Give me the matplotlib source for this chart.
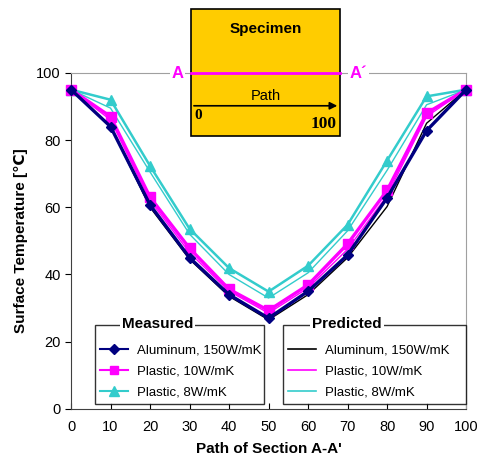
import matplotlib
matplotlib.use("Agg")
import matplotlib.pyplot as plt
from matplotlib.lines import Line2D
from matplotlib.patches import Rectangle

NAVY = "#000080"; MAGENTA = "#FF00FF"; CYAN = "#33CCCC"
YELLOW = "#FFCC00"; GRAYSPINE = "#A0A0A0"

plt.rcParams["font.family"] = ["Liberation Sans", "DejaVu Sans"]

path = [0, 10, 20, 30, 40, 50, 60, 70, 80, 90, 100]
meas_al = [95, 84, 60.7, 45, 34, 27, 35, 45.8, 62.8, 82.8, 95]
meas_p10 = [95, 87, 63, 47.8, 35.6, 29.3, 36.9, 49.1, 65, 88, 95]
meas_p8 = [95, 92, 72.3, 53.6, 41.9, 34.9, 42.6, 54.8, 73.9, 93, 95]
pred_al = [95, 84, 60, 44.5, 33.5, 26.5, 34, 45, 60.2, 85, 95]
pred_p10 = [95, 86, 62, 46.5, 35, 28.5, 36, 47.5, 63.5, 87, 95]
pred_p8 = [95, 89.5, 70.5, 52, 40, 33, 40.5, 53, 71, 90.5, 95]

labels = ["Aluminum, 150W/mK", "Plastic, 10W/mK", "Plastic, 8W/mK"]

fig = plt.figure(figsize=(4.8, 4.7), dpi=100)
ax = fig.add_axes([0.148, 0.130, 0.823, 0.715])

# predicted (thin lines)
ax.plot(path, pred_p8, color=CYAN, lw=1.0, zorder=3)
ax.plot(path, pred_p10, color=MAGENTA, lw=1.0, zorder=3)
ax.plot(path, pred_al, color="black", lw=1.0, zorder=3)

# measured (markers)
ax.plot(path, meas_p8, color=CYAN, lw=1.8, marker="^", ms=7, zorder=4, clip_on=False)
ax.plot(path, meas_p10, color=MAGENTA, lw=2.4, marker="s", ms=6.5, zorder=4, clip_on=False)
ax.plot(path, meas_al, color=NAVY, lw=2.4, marker="D", ms=5.5, zorder=5, clip_on=False)

ax.set_xlim(0, 100)
ax.set_ylim(0, 100)
ax.set_xticks(range(0, 101, 10))
ax.set_yticks(range(0, 101, 20))
ax.tick_params(axis="x", direction="in", length=4, labelsize=10.5, pad=8)
ax.tick_params(axis="y", direction="out", length=4, labelsize=10.5)
ax.spines["left"].set_color("#404040")
ax.spines["bottom"].set_color("#404040")
ax.spines["top"].set_color(GRAYSPINE)
ax.spines["right"].set_color(GRAYSPINE)
ax.set_xlabel("Path of Section A-A'", fontsize=11, fontweight="bold", labelpad=6)
ax.set_ylabel("Surface Temperature [℃]", fontsize=11, fontweight="bold", labelpad=6)

# specimen inset drawn in data coords above the axes
ax.add_patch(Rectangle((30.4, 81.3), 37.7, 37.8, facecolor=YELLOW, edgecolor="black",
                       lw=1.2, clip_on=False, zorder=6))
ax.text(49.2, 113, "Specimen", ha="center", va="center", fontsize=11,
        fontweight="bold", zorder=7, clip_on=False)
ax.plot([30.4, 68.1], [100, 100], color=MAGENTA, lw=2, zorder=7, clip_on=False)
ax.text(27, 99.8, "A", ha="center", va="center", color=MAGENTA, fontsize=12,
        fontweight="bold", zorder=7, clip_on=False,
        bbox=dict(facecolor="white", edgecolor="none", pad=1))
ax.text(72.8, 99.8, "A\u00b4", ha="center", va="center", color=MAGENTA, fontsize=12,
        fontweight="bold", zorder=7, clip_on=False,
        bbox=dict(facecolor="white", edgecolor="none", pad=1))
ax.text(49.2, 93.2, "Path", ha="center", va="center", fontsize=10.5, zorder=7)
ax.annotate("", xy=(68.1, 90.2), xytext=(30.4, 90.2), zorder=7,
            arrowprops=dict(arrowstyle="-|>", color="black", lw=1.2, mutation_scale=11))
ax.text(31.3, 87.3, "0", ha="left", va="center", fontsize=11, fontweight="bold",
        family="Liberation Serif", zorder=7)
ax.text(67.2, 84.9, "100", ha="right", va="center", fontsize=12.5, fontweight="bold",
        family="Liberation Serif", zorder=7)

# two legends: measured and predicted (blank title leaves room for the header)
meas_h = [Line2D([], [], color=NAVY, lw=1.5, marker="D", ms=5.5),
          Line2D([], [], color=MAGENTA, lw=1.5, marker="s", ms=6),
          Line2D([], [], color=CYAN, lw=1.5, marker="^", ms=6.5)]
pred_h = [Line2D([], [], color="black", lw=1.2),
          Line2D([], [], color=MAGENTA, lw=1.2),
          Line2D([], [], color=CYAN, lw=1.2)]

leg_kw = dict(loc="lower left", fontsize=9.5, frameon=True, fancybox=False,
              edgecolor="black", borderpad=0.4, handlelength=2.1, handletextpad=0.7,
              labelspacing=0.68, borderaxespad=0, mode="expand",
              title=" ", title_fontsize=4.5)
leg1 = ax.legend(meas_h, labels, bbox_to_anchor=(0.061, 0.015, 0.428, 0.2), **leg_kw)
leg1.get_frame().set_linewidth(1.0)
leg1.set_zorder(8)
ax.add_artist(leg1)
leg2 = ax.legend(pred_h, labels, bbox_to_anchor=(0.537, 0.015, 0.463, 0.2), **leg_kw)
leg2.get_frame().set_linewidth(1.0)
leg2.set_zorder(8)

ax.text(0.219, 0.253, "Measured", transform=ax.transAxes, ha="center", va="center",
        fontsize=11, fontweight="bold", zorder=9,
        bbox=dict(facecolor="white", edgecolor="none", pad=1.5))
ax.text(0.698, 0.253, "Predicted", transform=ax.transAxes, ha="center", va="center",
        fontsize=11, fontweight="bold", zorder=9,
        bbox=dict(facecolor="white", edgecolor="none", pad=1.5))

fig.savefig("out.png", dpi=100)
